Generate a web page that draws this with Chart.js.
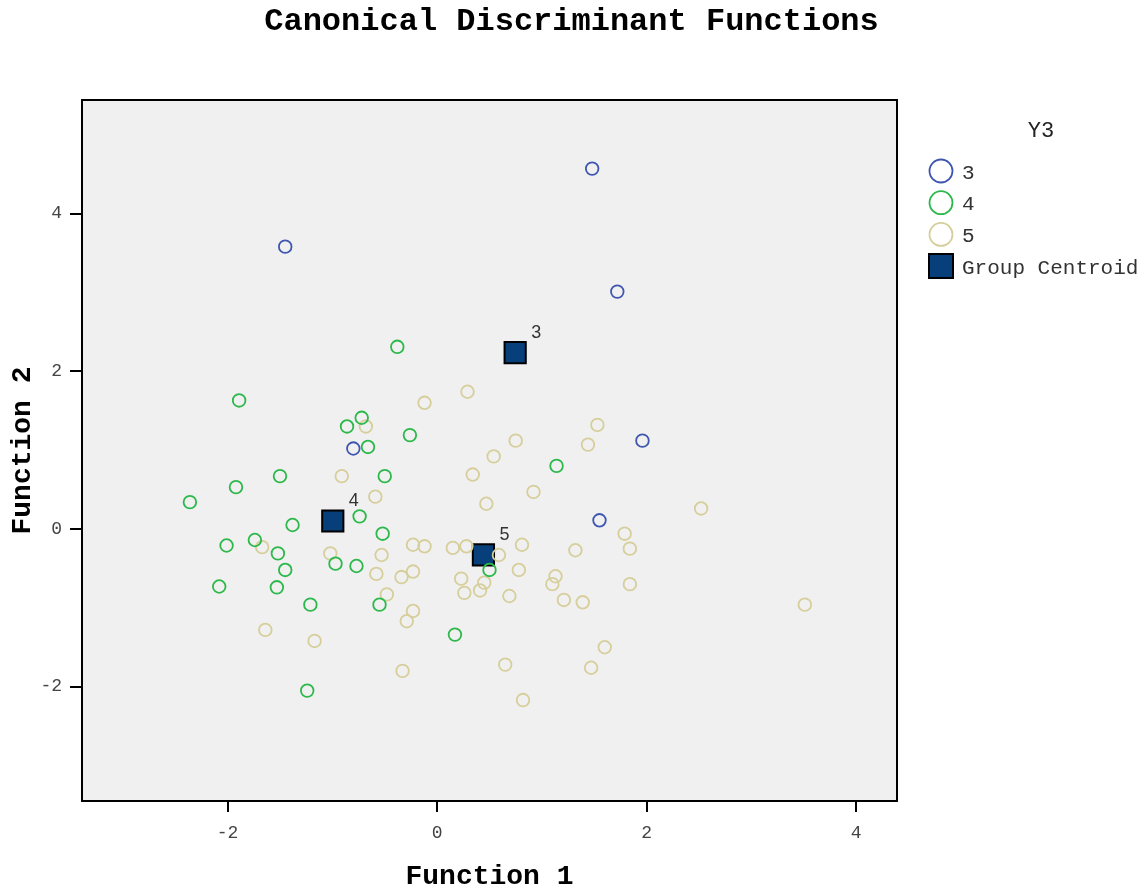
<!DOCTYPE html>
<html>
<head>
<meta charset="utf-8">
<title>Canonical Discriminant Functions</title>
<script src="https://cdn.jsdelivr.net/npm/chart.js@4.4.1/dist/chart.umd.min.js"></script>
<style>
  html, body { margin: 0; padding: 0; background: #fff; }
  #wrap { width: 1143px; height: 885px; }
</style>
</head>
<body>
<div id="wrap"><canvas id="discChart" width="1143" height="885"></canvas></div>
<script>
// group labels (Y3) and their scores on the two discriminant functions
const groupNames = ['3', '4', '5'];

const group3 = [
    [1.48, 4.57], [-1.45, 3.58], [1.72, 3.01], [1.96, 1.12], [-0.80, 1.02], [1.55, 0.11]
];

const group4 = [
    [-0.38, 2.31], [-1.89, 1.63], [-0.72, 1.41], [-0.86, 1.30], [-0.26, 1.19], [-0.66, 1.04],
    [-1.50, 0.67], [-0.50, 0.67], [-1.92, 0.53], [-2.36, 0.34], [-0.74, 0.16], [-1.38, 0.05],
    [-0.52, -0.06], [-1.74, -0.14], [-2.01, -0.21], [-1.52, -0.31], [-0.97, -0.44], [-0.77, -0.47],
    [-1.45, -0.52], [-2.08, -0.73], [-1.53, -0.74], [-1.21, -0.96], [-0.55, -0.96], [0.17, -1.34],
    [-1.24, -2.05], [0.50, -0.52], [1.14, 0.80]
];

const group5 = [
    [0.29, 1.74], [-0.12, 1.60], [-0.68, 1.30], [0.54, 0.92], [1.53, 1.32], [0.75, 1.12],
    [1.44, 1.07], [-0.91, 0.67], [0.34, 0.69], [-0.59, 0.41], [0.47, 0.32], [-1.67, -0.23],
    [-1.02, -0.31], [-0.53, -0.33], [-0.23, -0.20], [-0.12, -0.22], [0.15, -0.24], [0.28, -0.22],
    [-0.58, -0.57], [-0.34, -0.61], [-0.23, -0.54], [0.23, -0.63], [0.45, -0.68], [0.41, -0.78],
    [0.26, -0.81], [-0.48, -0.83], [-0.23, -1.04], [-0.29, -1.17], [-1.64, -1.28], [-1.17, -1.42],
    [-0.33, -1.80], [0.65, -1.72], [0.59, -0.33], [0.92, 0.47], [2.52, 0.26], [1.79, -0.06],
    [1.84, -0.25], [1.32, -0.27], [0.81, -0.20], [0.78, -0.52], [1.13, -0.60], [1.10, -0.70],
    [1.84, -0.70], [0.69, -0.85], [1.21, -0.90], [1.39, -0.93], [3.51, -0.96], [1.60, -1.50],
    [1.47, -1.76], [0.82, -2.17]
];

const centroids = [[0.745, 2.235], [-0.996, 0.101], [0.442, -0.330]];
const centroidLabels = ['3', '4', '5'];

const xTicks = [-2, 0, 2, 4];
const yTicks = [-2, 0, 2, 4];
const xRange = [-3.39, 4.39];
const yRange = [-3.45, 5.44];

const groupColors = ['#3f56b0', '#2db84b', '#d6ce9b'];
const centroidFill = '#073f7a';
const MONO = "'Liberation Mono', 'Courier New', monospace";

const toXY = pts => pts.map(p => ({ x: p[0], y: p[1] }));

const circleSet = (name, pts, color) => ({
    label: name,
    data: toXY(pts),
    pointStyle: 'circle',
    pointRadius: 6.3,
    pointBorderWidth: 1.8,
    borderColor: color,
    backgroundColor: 'rgba(0,0,0,0)'
});

// plot area background + frame, and the centroid tags
const plotFrame = {
    id: 'plotFrame',
    beforeDraw(chart) {
        const a = chart.chartArea, ctx = chart.ctx;
        ctx.save();
        ctx.fillStyle = '#f0f0f0';
        ctx.fillRect(a.left, a.top, a.right - a.left, a.bottom - a.top);
        ctx.restore();
    },
    afterDatasetsDraw(chart) {
        const a = chart.chartArea, ctx = chart.ctx;
        ctx.save();
        ctx.strokeStyle = '#000';
        ctx.lineWidth = 2;
        ctx.strokeRect(a.left, a.top, a.right - a.left, a.bottom - a.top);

        const meta = chart.getDatasetMeta(3);
        ctx.fillStyle = '#333';
        ctx.font = "18px 'Liberation Sans', sans-serif";
        ctx.textAlign = 'center';
        ctx.textBaseline = 'middle';
        meta.data.forEach((pt, i) => {
            ctx.fillText(centroidLabels[i], pt.x + 21, pt.y - 20);
        });
        ctx.restore();
    }
};

// legend on the right, drawn by hand to match the SPSS layout
const sideLegend = {
    id: 'sideLegend',
    afterDraw(chart) {
        const ctx = chart.ctx;
        const x0 = 941;
        ctx.save();
        ctx.fillStyle = '#222';
        ctx.font = '22px ' + MONO;
        ctx.textAlign = 'center';
        ctx.textBaseline = 'middle';
        ctx.fillText('Y3', 1041, 131);

        ctx.textAlign = 'left';
        ctx.font = '21px ' + MONO;
        groupNames.forEach((name, i) => {
            const y = 171 + i * 31.7;
            ctx.beginPath();
            ctx.arc(x0, y, 11.5, 0, Math.PI * 2);
            ctx.strokeStyle = groupColors[i];
            ctx.lineWidth = 1.8;
            ctx.stroke();
            ctx.fillStyle = '#333';
            ctx.fillText(name, 962, y + 2);
        });

        const ys = 266;
        ctx.fillStyle = centroidFill;
        ctx.fillRect(x0 - 12, ys - 12, 24, 24);
        ctx.strokeStyle = '#000';
        ctx.lineWidth = 2;
        ctx.strokeRect(x0 - 12, ys - 12, 24, 24);
        ctx.fillStyle = '#333';
        ctx.fillText('Group Centroid', 962, ys + 2);
        ctx.restore();
    }
};

const ctx = document.getElementById('discChart').getContext('2d');

const discChart = new Chart(ctx, {
    type: 'scatter',
    data: {
        datasets: [
            circleSet('3', group3, groupColors[0]),
            circleSet('4', group4, groupColors[1]),
            circleSet('5', group5, groupColors[2]),
            {
                label: 'Group Centroid',
                data: toXY(centroids),
                pointStyle: 'rect',
                pointRadius: 15,
                pointBorderWidth: 2,
                borderColor: '#000',
                backgroundColor: centroidFill
            }
        ]
    },
    options: {
        responsive: false,
        animation: false,
        events: [],
        layout: {
            padding: 0
        },
        plugins: {
            legend: { display: false },
            tooltip: { enabled: false },
            title: {
                display: true,
                text: 'Canonical Discriminant Functions',
                color: '#000',
                font: { family: MONO, size: 32, weight: 'bold', lineHeight: 1.2 },
                padding: { top: 3, bottom: 58.6 }
            }
        },
        scales: {
            x: {
                type: 'linear',
                min: xRange[0],
                max: xRange[1],
                afterBuildTicks: scale => { scale.ticks = xTicks.map(v => ({ value: v })); },
                afterFit: scale => { scale.height = 84; },
                border: { display: false },
                grid: { drawOnChartArea: false, drawTicks: true, tickLength: 11, color: '#000', lineWidth: 2 },
                ticks: { color: '#444', padding: 10, font: { family: MONO, size: 18 } },
                title: {
                    display: true,
                    text: 'Function 1',
                    color: '#000',
                    font: { family: MONO, size: 28, weight: 'bold', lineHeight: 0.6 },
                    padding: { top: 0, bottom: 0 }
                }
            },
            y: {
                type: 'linear',
                min: yRange[0],
                max: yRange[1],
                afterBuildTicks: scale => { scale.ticks = yTicks.map(v => ({ value: v })); },
                afterFit: scale => { scale.width = 82; },
                border: { display: false },
                grid: { drawOnChartArea: false, drawTicks: true, tickLength: 12, color: '#000', lineWidth: 2 },
                ticks: { color: '#444', padding: 8, font: { family: MONO, size: 18 } },
                title: {
                    display: true,
                    text: 'Function 2',
                    color: '#000',
                    font: { family: MONO, size: 28, weight: 'bold', lineHeight: 1.2 },
                    padding: { top: 6, bottom: 0 }
                }
            },
            // empty axis that only reserves the legend column on the right
            legendSpace: {
                type: 'linear',
                axis: 'y',
                position: 'right',
                display: true,
                afterFit: scale => { scale.width = 246; },
                border: { display: false },
                grid: { display: false },
                ticks: { display: false }
            }
        }
    },
    plugins: [plotFrame, sideLegend]
});
</script>
</body>
</html>
